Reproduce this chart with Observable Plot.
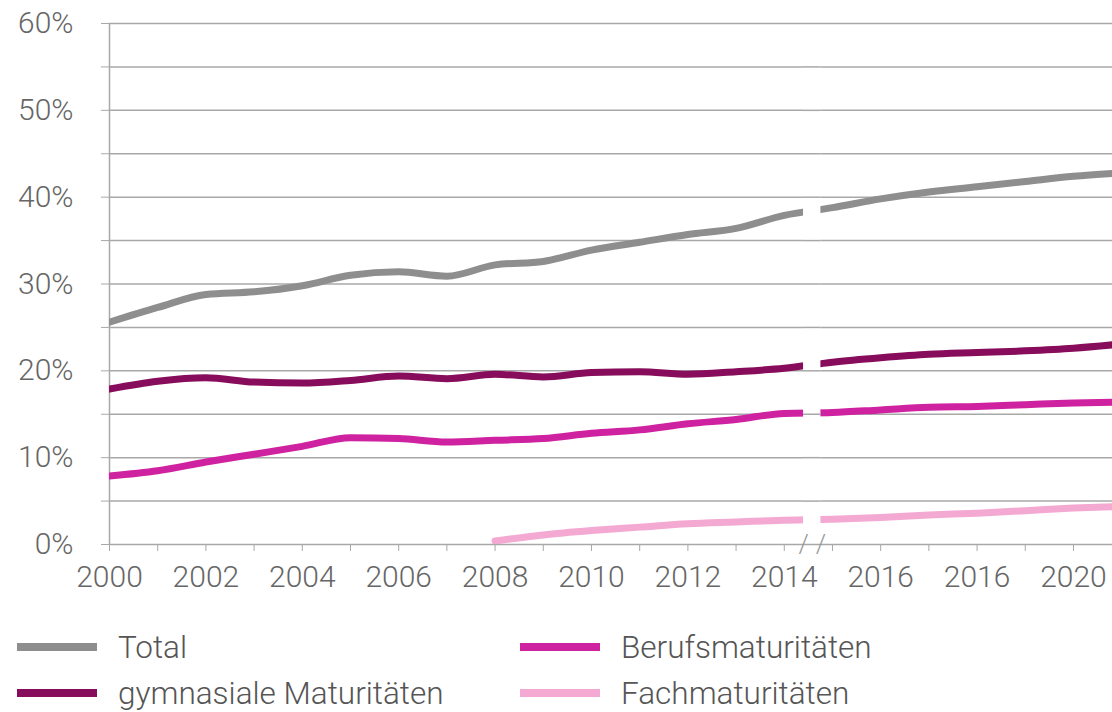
<!DOCTYPE html>
<html>
<head>
<meta charset="utf-8">
<script src="https://cdn.jsdelivr.net/npm/d3@7"></script>
<script src="https://cdn.jsdelivr.net/npm/@observablehq/plot@0.6"></script>
<style>
  body { margin: 0; background: #fff; font-family: Roboto, "Noto Sans", sans-serif; }
  #chart { width: 1112px; height: 605px; overflow: hidden; }
  #legend { position: relative; width: 1112px; height: 107px; }
  .item { position: absolute; display: flex; align-items: center; height: 40px; }
  .sw { width: 80px; height: 8px; margin-right: 21px; }
  .lbl { font-size: 31.5px; font-weight: 300; color: #555; white-space: nowrap; }
</style>
</head>
<body>
<div id="chart"></div>
<div id="legend"></div>
<script>
const years = [2000, 2001, 2002, 2003, 2004, 2005, 2006, 2007, 2008, 2009, 2010,
               2011, 2012, 2013, 2014, 2015, 2016, 2017, 2018, 2019, 2020, 2021];
const totalValues = [25.6, 27.3, 28.8, 29.1, 29.8, 31.0, 31.4, 30.9, 32.2, 32.6, 33.9,
                     34.8, 35.7, 36.4, 37.9, 38.8, 39.8, 40.6, 41.2, 41.8, 42.4, 42.8];
const gymnasialValues = [17.9, 18.8, 19.2, 18.7, 18.6, 18.9, 19.4, 19.1, 19.6, 19.3, 19.8,
                         19.9, 19.6, 19.9, 20.3, 21.0, 21.5, 21.9, 22.1, 22.3, 22.6, 23.1];
const berufsValues = [7.9, 8.5, 9.5, 10.4, 11.3, 12.3, 12.2, 11.8, 12.0, 12.2, 12.8,
                      13.2, 13.9, 14.4, 15.1, 15.2, 15.5, 15.8, 15.9, 16.1, 16.3, 16.4];
const fachValues = [null, null, null, null, null, null, null, null, 0.4, 1.1, 1.6,
                    2.0, 2.4, 2.6, 2.8, 2.9, 3.1, 3.4, 3.6, 3.9, 4.2, 4.4];

const seriesNames = ["Total", "gymnasiale Maturitäten", "Berufsmaturitäten", "Fachmaturitäten"];
const seriesColors = ["#8e8e8e", "#870c5c", "#cf22a0", "#f4a9d3"];
const seriesValues = [totalValues, gymnasialValues, berufsValues, fachValues];

const tickYears = [2000, 2002, 2004, 2006, 2008, 2010, 2012, 2014, 2016, 2018, 2020];
const tickLabels = ["2000", "2002", "2004", "2006", "2008", "2010", "2012", "2014", "2016", "2016", "2020"];
const gridValues = [0, 5, 10, 15, 20, 25, 30, 35, 40, 45, 50, 55, 60];

const breakStart = 2014.4;
const breakEnd = 2014.76;

const rows = [];
seriesNames.forEach((name, s) => {
  years.forEach((yr, i) => {
    rows.push({series: name, year: yr, value: seriesValues[s][i]});
  });
});

const labelOf = new Map(tickYears.map((y, i) => [y, tickLabels[i]]));
const gridColor = "#a8a8a8";

const chart = Plot.plot({
  width: 1112,
  height: 605,
  marginLeft: 109,
  marginRight: 0,
  marginTop: 23,
  marginBottom: 61,
  style: {fontFamily: "Roboto, 'Noto Sans', sans-serif", fontSize: "30px", fontWeight: 300, background: "#fff", color: "#666"},
  x: {domain: [2000, 2020.81], label: null},
  y: {domain: [0, 60], label: null},
  color: {domain: seriesNames, range: seriesColors},
  marks: [
    Plot.ruleY(gridValues, {stroke: gridColor, strokeWidth: 1.5}),
    Plot.ruleX([2000], {stroke: gridColor, strokeWidth: 1.5}),
    Plot.axisY({ticks: gridValues, tickSize: 8, tickPadding: 28, stroke: gridColor, fill: "#666", label: null,
                tickFormat: d => d % 10 === 0 ? d + "%" : ""}),
    Plot.axisX({ticks: years, tickSize: 7, tickPadding: 14, stroke: gridColor, fill: "#666", label: null,
                tickFormat: d => labelOf.get(d) || ""}),
    Plot.line(rows, {x: "year", y: "value", z: "series", stroke: "series", strokeWidth: 7,
                     curve: "monotone-x", clip: true}),
    Plot.rect([0], {x1: breakStart, x2: breakEnd, y1: 0.6, y2: 58, fill: "#fff"}),
    Plot.ruleY(gridValues.filter(d => d > 0 && d < 60), {x1: breakStart, x2: breakEnd, stroke: gridColor, strokeWidth: 1.5}),
    Plot.text([breakStart, breakEnd], {x: d => d, y: 0, text: () => "/", fontSize: 26, fill: "#999"})
  ]
});
document.getElementById("chart").appendChild(chart);

const legend = document.getElementById("legend");
const legendPos = [[17, 42], [17, 88], [520, 42], [520, 88]];
seriesNames.forEach((name, i) => {
  const it = document.createElement("div");
  it.className = "item";
  it.style.left = legendPos[i][0] + "px";
  it.style.top = (legendPos[i][1] - 20) + "px";
  it.innerHTML = `<div class="sw" style="background:${seriesColors[i]}"></div><div class="lbl">${name}</div>`;
  legend.appendChild(it);
});
</script>
</body>
</html>
